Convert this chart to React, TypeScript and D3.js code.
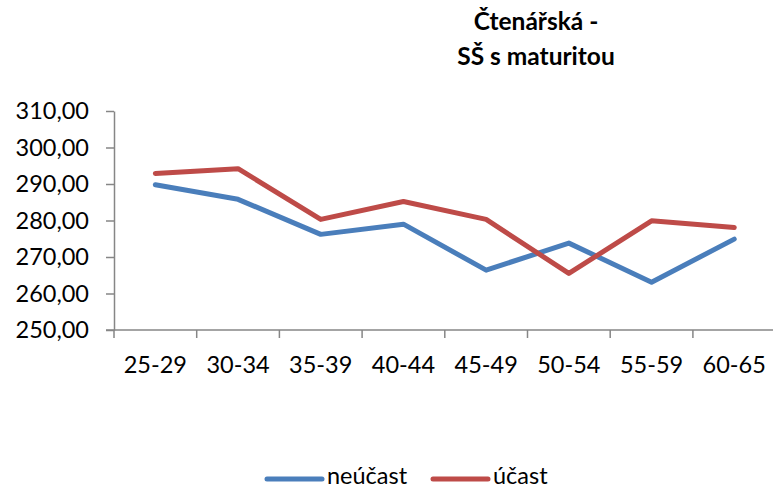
import React, { useRef, useEffect } from 'react';
import * as d3 from 'd3';

// age groups on the x axis
const categories = ['25-29', '30-34', '35-39', '40-44', '45-49', '50-54', '55-59', '60-65'];
// values
const neucast = [289.8, 285.8, 276.2, 279.0, 266.4, 273.8, 263.1, 274.9];
const ucast = [292.9, 294.2, 280.3, 285.2, 280.3, 265.5, 279.9, 278.1];
const yTicks = [250, 260, 270, 280, 290, 300, 310];
const titleLines = ['Čtenářská -', 'SŠ s maturitou'];

const series = [
  { name: 'neúčast', values: neucast, color: '#4A7EBB' },
  { name: 'účast', values: ucast, color: '#BE4B48' },
];

const FONT = 'Lato, "Open Sans", sans-serif';
const FS = '23.5px';

const App = () => {
  const svgRef = useRef<SVGSVGElement>(null);

  useEffect(() => {
    const svg = d3.select(svgRef.current);
    svg.selectAll('*').remove();

    const left = 114;
    const band = 82.7;
    const top = 111;
    const bottom = 330;

    const x = d3.scaleBand<string>()
      .domain(categories)
      .range([left, left + band * categories.length])
      .paddingInner(0)
      .paddingOuter(0);

    const y = d3.scaleLinear().domain([250, 310]).range([bottom, top]);
    const fmt = (v: number) => d3.format('.2f')(v).replace('.', ',');
    const axisColor = '#868686';

    // title
    svg.append('text')
      .attr('x', 536)
      .attr('y', 30)
      .attr('text-anchor', 'middle')
      .style('font-family', FONT)
      .style('font-size', '24.5px')
      .style('font-weight', 'bold')
      .selectAll('tspan')
      .data(titleLines)
      .join('tspan')
      .attr('x', 536)
      .attr('dy', (d, i) => (i === 0 ? 0 : 35))
      .text(d => d);

    // y axis
    const yAxis = svg.append('g')
      .attr('transform', `translate(${left},0)`)
      .call(d3.axisLeft(y).tickValues(yTicks).tickSize(8).tickSizeOuter(0).tickPadding(17).tickFormat(d => fmt(+d)));
    yAxis.select('.domain').attr('stroke', axisColor).attr('stroke-width', 1.5);
    yAxis.selectAll('.tick line').attr('stroke', axisColor).attr('stroke-width', 1.5);
    yAxis.selectAll('.tick text')
      .attr('fill', '#000')
      .style('font-family', FONT)
      .style('font-size', FS);

    // x axis: Excel-style ticks between categories
    const xAxis = svg.append('g').attr('transform', `translate(0,${bottom})`);
    xAxis.append('line')
      .attr('x1', left - 8)
      .attr('x2', x.range()[1])
      .attr('stroke', axisColor)
      .attr('stroke-width', 1.5);
    const bounds = categories.map(c => x(c) as number).concat([x.range()[1]]);
    xAxis.selectAll('line.tk')
      .data(bounds)
      .join('line')
      .attr('class', 'tk')
      .attr('x1', d => d)
      .attr('x2', d => d)
      .attr('y1', 0)
      .attr('y2', 8)
      .attr('stroke', axisColor)
      .attr('stroke-width', 1.5);
    xAxis.selectAll('text')
      .data(categories)
      .join('text')
      .attr('x', d => (x(d) as number) + x.bandwidth() / 2)
      .attr('y', 43)
      .attr('text-anchor', 'middle')
      .style('font-family', FONT)
      .style('font-size', FS)
      .text(d => d);

    // lines
    const line = d3.line<number>()
      .x((d, i) => (x(categories[i]) as number) + x.bandwidth() / 2)
      .y(d => y(d));

    series.forEach(s => {
      svg.append('path')
        .datum(s.values)
        .attr('fill', 'none')
        .attr('stroke', s.color)
        .attr('stroke-width', 5)
        .attr('stroke-linecap', 'round')
        .attr('stroke-linejoin', 'round')
        .attr('d', line);
    });

    // legend
    const legendX = [267, 433];
    const legend = svg.append('g');
    series.forEach((s, i) => {
      legend.append('line')
        .attr('x1', legendX[i])
        .attr('x2', legendX[i] + 55)
        .attr('y1', 479)
        .attr('y2', 479)
        .attr('stroke', s.color)
        .attr('stroke-width', 5)
        .attr('stroke-linecap', 'round');
      legend.append('text')
        .attr('x', legendX[i] + 60)
        .attr('y', 484)
        .style('font-family', FONT)
        .style('font-size', FS)
        .text(s.name);
    });
  }, []);

  return (
    <svg
      ref={svgRef}
      width={773}
      height={490}
      style={{ position: 'absolute', left: 0, top: 0, background: '#fff' }}
    />
  );
};

export default App;
